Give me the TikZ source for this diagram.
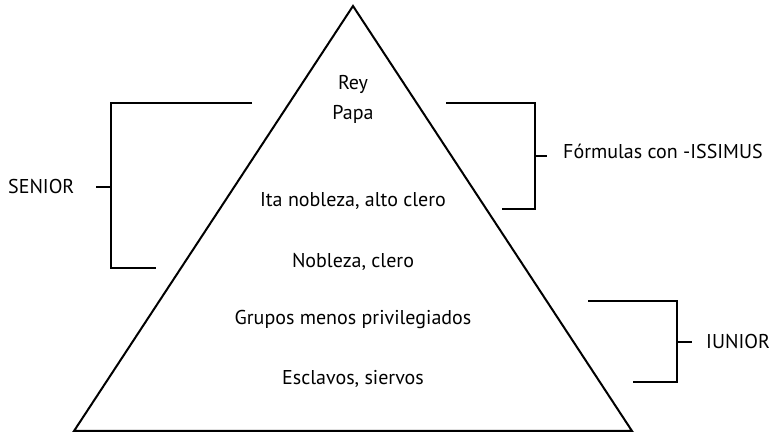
\documentclass[tikz,border=0pt]{standalone}
\usepackage{fontspec}
\setmainfont{PT Sans}

\begin{document}
\begin{tikzpicture}[x=1pt, y=-1pt,
	level/.style = {anchor=base, inner sep=0pt, font=\fontsize{20}{24}\selectfont},
	side/.style = {anchor=base west, inner sep=0pt, font=\fontsize{20}{24}\selectfont},
	brace/.style = {line width=2.6pt}]
	\useasboundingbox (0,0) rectangle (772,435);
	% pyramid
	\coordinate (top) at (353,6);
	\coordinate (right) at (632,431);
	\coordinate (left) at (74,431);
	\draw [line width=2pt] (top) -- (right) -- (left) -- cycle;
	\node [level] (rey) at (353,90) {Rey};
	\node [level] (papa) at (353,120) {Papa};
	\node [level] (alta) at (353,207) {Ita nobleza, alto clero};
	\node [level] (nobleza) at (353,268) {Nobleza, clero};
	\node [level] (grupos) at (353,325) {Grupos menos privilegiados};
	\node [level] (esclavos) at (353,385) {Esclavos, siervos};
	% brackets
	\node [side] (senior) at (8,194) {SENIOR};
	\draw [brace] (252,103) -| (111,268) -- (156,268);
	\draw [brace] (111,187) -- (96,187);
	\node [side] (issimus) at (563,159) {Fórmulas con -ISSIMUS};
	\draw [brace] (446,103) -| (535,209) -- (502,209);
	\draw [brace] (535,156) -- (547,156);
	\node [side] (iunior) at (706,349) {IUNIOR};
	\draw [brace] (588,301) -| (677,382) -- (633,382);
	\draw [brace] (677,342) -- (692,342);
\end{tikzpicture}
\end{document}
